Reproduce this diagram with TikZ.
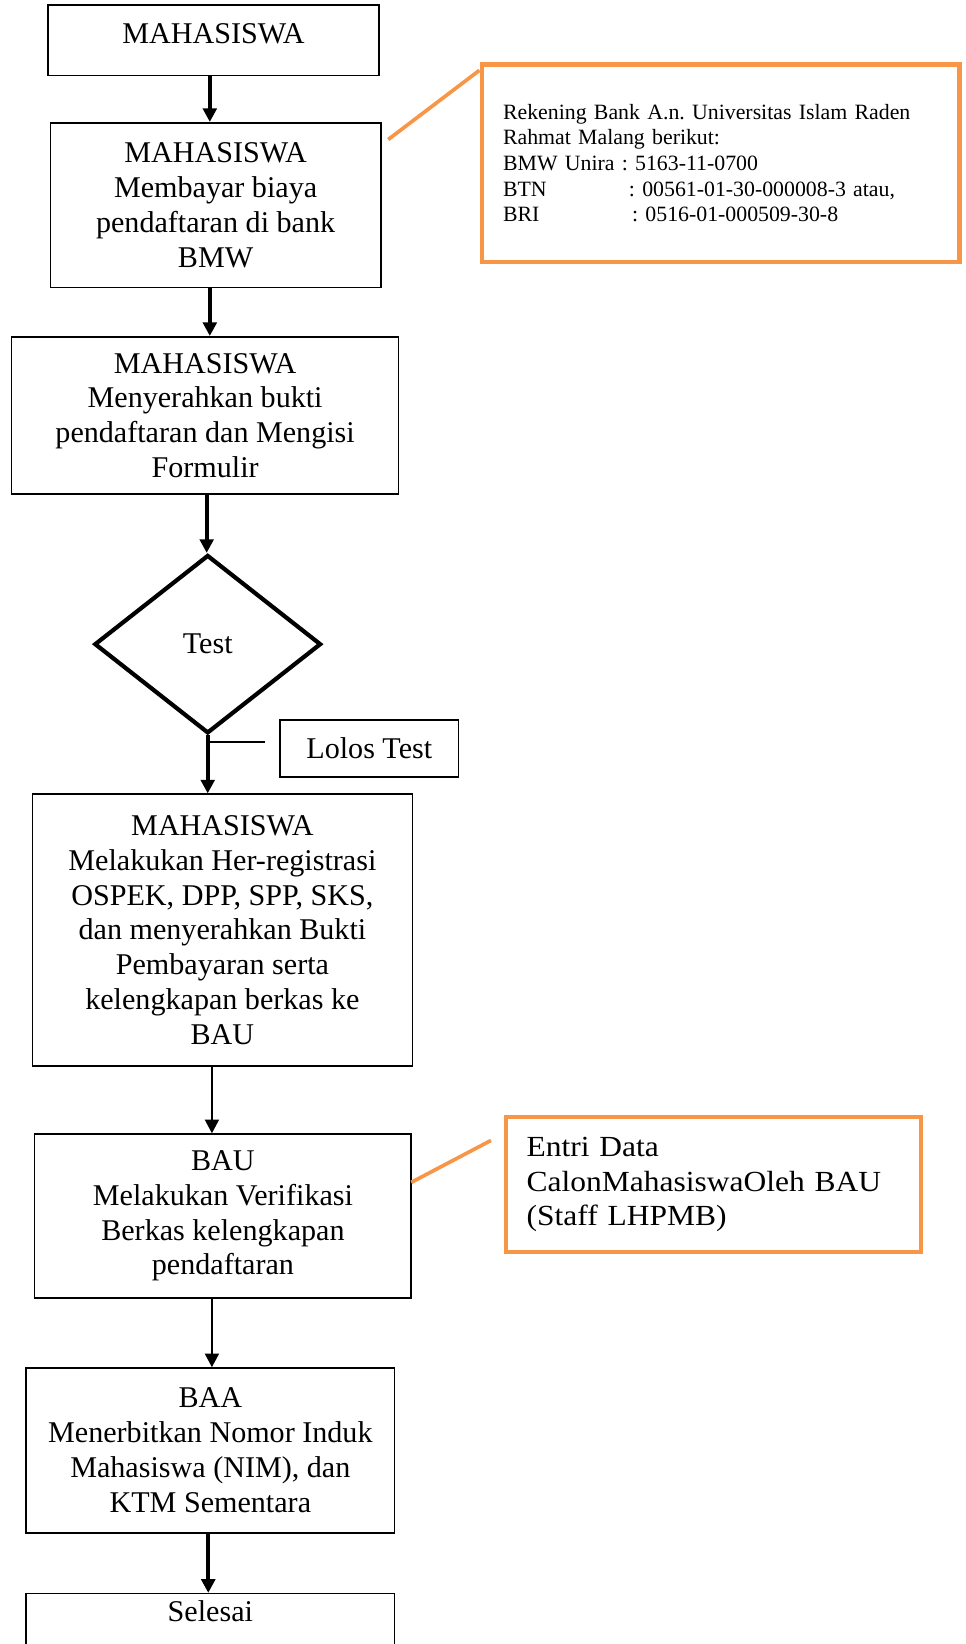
\documentclass[tikz,border=0pt]{standalone}
\usepackage{fontspec}
\setmainfont{Liberation Serif}
\newfontfamily\widefont[FakeStretch=1.08]{Liberation Serif}
\usetikzlibrary{arrows.meta,shapes.geometric}
\definecolor{orng}{HTML}{F79646}
\frenchspacing
\begin{document}
\begin{tikzpicture}[x=1pt,y=-1pt,
  mainfont/.style={font=\fontsize{28.7}{33.2}\selectfont},
  box/.style={draw,line width=1.5pt,align=center,inner sep=0pt,mainfont},
  flow/.style={line width=3.8pt,-{Triangle[width=13pt,length=13pt]}},
  thinflow/.style={line width=2.6pt,-{Triangle[width=13pt,length=13pt]}},
  note/.style={draw=orng,line width=4pt,inner sep=0pt,align=left},
  noteline/.style={draw=orng,line width=3.5pt},
  tick/.style={line width=1.8pt}]
\useasboundingbox (0,0) rectangle (920,1567);

\node[box,minimum width=315pt,minimum height=67pt,text height=19pt,text depth=14pt] (b1) at (203.5,38.5) {MAHASISWA};
\node[box,minimum width=315pt,minimum height=157pt] (b2) at (205.5,195.5) {MAHASISWA\\Membayar biaya\\pendaftaran di bank\\BMW};
\node[box,minimum width=369pt,minimum height=150pt] (b3) at (195.5,396) {MAHASISWA\\Menyerahkan bukti\\pendaftaran dan Mengisi\\Formulir};
\node[draw,diamond,line width=4pt,inner sep=0pt,minimum width=216pt,minimum height=170pt,mainfont] (dia) at (198,614) {Test};
\node[box,minimum width=170pt,minimum height=54.6pt] (lolos) at (352,713.3) {Lolos Test};
\node[box,minimum width=362pt,minimum height=259pt] (b4) at (212,886.5) {MAHASISWA\\Melakukan Her-registrasi\\OSPEK, DPP, SPP, SKS,\\dan menyerahkan Bukti\\Pembayaran serta\\kelengkapan berkas ke\\BAU};
\node[box,minimum width=359pt,minimum height=156pt] (b5) at (212.5,1159) {BAU\\Melakukan Verifikasi\\Berkas kelengkapan\\pendaftaran};
\node[box,minimum width=351pt,minimum height=157pt] (b6) at (200.5,1382.5) {BAA\\Menerbitkan Nomor Induk\\Mahasiswa (NIM), dan\\KTM Sementara};
\node[box,minimum width=351pt,minimum height=81pt,text height=19pt,text depth=46pt] (b7) at (200.5,1559.5) {Selesai};

\node[note,minimum width=455pt,minimum height=188pt,text width=415pt,font=\fontsize{20.8}{24.4}\selectfont] (cb1) at (687,155.5)
 {Rekening Bank A.n. Universitas Islam Raden\\Rahmat Malang berikut:\\BMW Unira : 5163-11-0700\\\makebox[120pt][l]{BTN}: 00561-01-30-000008-3 atau,\\\makebox[123pt][l]{BRI}: 0516-01-000509-30-8};
\node[note,minimum width=396pt,minimum height=128pt,text width=356pt,font=\widefont\fontsize{27.8}{33}\selectfont] (cb2) at (680,1129)
 {Entri Data\\\mbox{CalonMahasiswaOleh BAU}\\(Staff LHPMB)};

\draw[flow] ([xshift=-3.5pt]b1.south) -- ([xshift=-5.5pt]b2.north);
\draw[flow] ([xshift=-5.5pt]b2.south) -- ([xshift=4.5pt]b3.north);
\draw[flow] ([xshift=1.5pt]b3.south) -- ([xshift=-1pt]dia.north);
\draw[flow] (dia.south) -- ([xshift=-14pt]b4.north);
\draw[thinflow] ([xshift=-10pt]b4.south) -- ([xshift=-10.5pt]b5.north);
\draw[thinflow] ([xshift=-10.5pt]b5.south) -- ([xshift=1.5pt]b6.north);
\draw[flow] ([xshift=-2pt]b6.south) -- ([xshift=-2pt]b7.north);

\coordinate (lt1) at (200,707);
\coordinate (lt2) at (252.6,707);
\draw[tick] (lt1) -- (lt2);

\coordinate (n1a) at (370,133);
\coordinate (n1b) at (457,67);
\draw[noteline] (n1a) -- (n1b);
\coordinate (n2a) at (392,1127);
\coordinate (n2b) at (468,1087);
\draw[noteline] (n2a) -- (n2b);
\end{tikzpicture}
\end{document}
